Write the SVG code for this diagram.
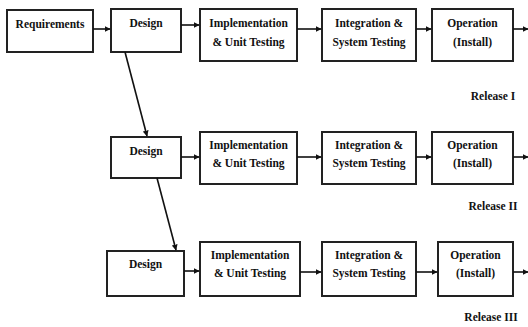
<svg xmlns="http://www.w3.org/2000/svg" width="528" height="327" viewBox="0 0 528 327">
<defs>
<marker id="ah" viewBox="0 0 10 10" refX="9" refY="5" markerWidth="6" markerHeight="6" markerUnits="userSpaceOnUse" orient="auto">
<path d="M0,0 L10,5 L0,10 z" fill="#111"/>
</marker>
<style>
.box{fill:#fff;stroke:#222;stroke-width:2}
.t{font-family:'Liberation Serif','Times New Roman',serif;font-weight:bold;font-size:11.5px;fill:#111;text-anchor:middle}
.c{stroke:#111;stroke-width:1.6;fill:none;marker-end:url(#ah)}
</style>
</defs>
<rect width="528" height="327" fill="#fff"/>
<g id="requirements"><rect class="box" x="7" y="10" width="86" height="42"/><text class="t" x="50" y="28">Requirements</text></g>
<g id="design1"><rect class="box" x="111" y="9" width="70" height="43"/><text class="t" x="146" y="27">Design</text></g>
<g id="impl1"><rect class="box" x="200" y="9" width="97" height="52"/><text class="t" x="248.5" y="27">Implementation</text><text class="t" x="248.5" y="46">&amp; Unit Testing</text></g>
<g id="integ1"><rect class="box" x="322" y="9" width="94" height="52"/><text class="t" x="369" y="27">Integration &amp;</text><text class="t" x="369" y="46">System Testing</text></g>
<g id="op1"><rect class="box" x="432" y="9" width="81" height="52"/><text class="t" x="472.5" y="27">Operation</text><text class="t" x="472.5" y="46">(Install)</text></g>
<text class="t" x="493" y="100">Release I</text>

<g id="design2"><rect class="box" x="111" y="137" width="70" height="41"/><text class="t" x="146" y="155">Design</text></g>
<g id="impl2"><rect class="box" x="200" y="132" width="97" height="52"/><text class="t" x="248.5" y="149">Implementation</text><text class="t" x="248.5" y="167">&amp; Unit Testing</text></g>
<g id="integ2"><rect class="box" x="322" y="132" width="94" height="52"/><text class="t" x="369" y="149">Integration &amp;</text><text class="t" x="369" y="167">System Testing</text></g>
<g id="op2"><rect class="box" x="432" y="132" width="81" height="52"/><text class="t" x="472.5" y="149">Operation</text><text class="t" x="472.5" y="167">(Install)</text></g>
<text class="t" x="493" y="210">Release II</text>

<g id="design3"><rect class="box" x="107" y="251" width="77" height="45"/><text class="t" x="145.5" y="268">Design</text></g>
<g id="impl3"><rect class="box" x="200" y="242" width="100" height="54"/><text class="t" x="250" y="259">Implementation</text><text class="t" x="250" y="277">&amp; Unit Testing</text></g>
<g id="integ3"><rect class="box" x="322" y="242" width="94" height="54"/><text class="t" x="369" y="259">Integration &amp;</text><text class="t" x="369" y="277">System Testing</text></g>
<g id="op3"><rect class="box" x="438" y="242" width="75" height="54"/><text class="t" x="475.5" y="259">Operation</text><text class="t" x="475.5" y="277">(Install)</text></g>
<text class="t" x="491" y="321">Release III</text>

<g id="connectors">
<line class="c" x1="93" y1="29" x2="110" y2="29"/>
<line class="c" x1="181" y1="25" x2="199" y2="25"/>
<line class="c" x1="297" y1="29" x2="321" y2="29"/>
<line class="c" x1="416" y1="29" x2="431" y2="29"/>
<line class="c" x1="513" y1="29" x2="528" y2="29"/>
<line class="c" x1="125" y1="52" x2="147" y2="136"/>
<line class="c" x1="181" y1="157" x2="199" y2="157"/>
<line class="c" x1="297" y1="157" x2="321" y2="157"/>
<line class="c" x1="416" y1="157" x2="431" y2="157"/>
<line class="c" x1="513" y1="157" x2="528" y2="157"/>
<line class="c" x1="157" y1="178" x2="176" y2="250"/>
<line class="c" x1="184" y1="271" x2="199" y2="271"/>
<line class="c" x1="300" y1="272" x2="321" y2="272"/>
<line class="c" x1="416" y1="272" x2="437" y2="272"/>
<line class="c" x1="513" y1="272" x2="528" y2="272"/>
</g>
</svg>
